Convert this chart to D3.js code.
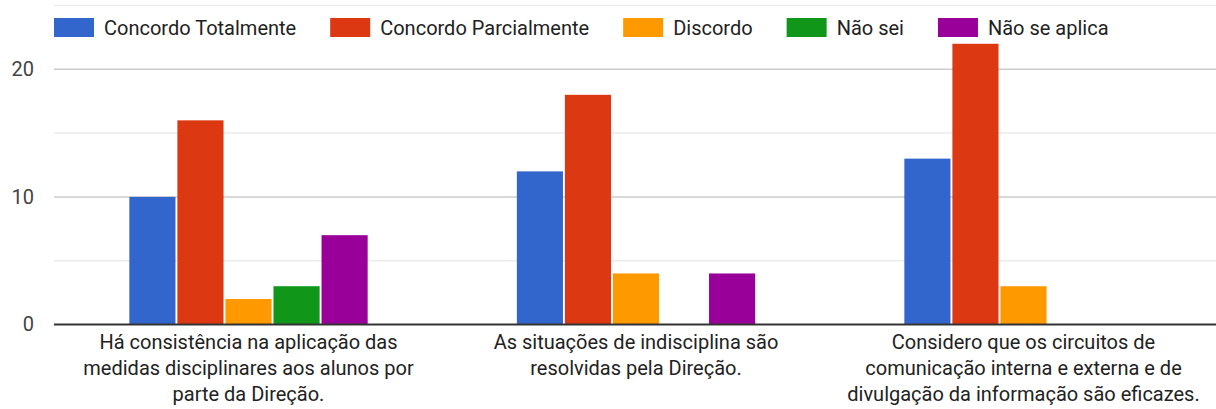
<!DOCTYPE html>
<html>
<head>
<meta charset="utf-8">
<script src="https://cdn.jsdelivr.net/npm/d3@7"></script>
<style>
  html, body { margin: 0; padding: 0; background: #fff; }
  svg { display: block; font-family: Roboto, "Noto Sans", Arial, sans-serif; }
</style>
</head>
<body>
<svg id="chart" width="1216" height="409"></svg>
<script>
// Survey statements (x categories), one label line per entry
const categories = [
  ["Há consistência na aplicação das", "medidas disciplinares aos alunos por", "parte da Direção."],
  ["As situações de indisciplina são", "resolvidas pela Direção."],
  ["Considero que os circuitos de", "comunicação interna e externa e de", "divulgação da informação são eficazes."]
];

// Answer options (series)
const seriesNames = ["Concordo Totalmente", "Concordo Parcialmente", "Discordo", "Não sei", "Não se aplica"];
const seriesColors = ["#3366cc", "#dc3912", "#ff9900", "#109618", "#990099"];

// Number of answers per statement, one array per answer option
const concordoTotalmente   = [10, 12, 13];
const concordoParcialmente = [16, 18, 22];
const discordo             = [2, 4, 3];
const naoSei               = [3, 0, 0];
const naoSeAplica          = [7, 4, 0];
const seriesValues = [concordoTotalmente, concordoParcialmente, discordo, naoSei, naoSeAplica];

// Y axis ticks
const yTickLabels = [0, 10, 20];
const yGridValues = [5, 10, 15, 20, 25];

const FONT = "Roboto, 'Noto Sans', Arial, sans-serif";
const svg = d3.select("#chart");
const plot = { left: 54.75, right: 1217.25, top: 5.5, bottom: 324.5 };

const y = d3.scaleLinear().domain([0, 25]).range([plot.bottom, plot.top]);
const x0 = d3.scaleBand()
  .domain(d3.range(categories.length))
  .range([plot.left, plot.right])
  .paddingInner(0.385)
  .paddingOuter(0.1925);
const x1 = d3.scaleBand()
  .domain(d3.range(seriesNames.length))
  .range([0, x0.bandwidth()])
  .paddingInner(0.04);

// Gridlines: stronger on labelled ticks
svg.append("g").selectAll("line")
  .data(yGridValues)
  .join("line")
  .attr("x1", 54)
  .attr("x2", 1216)
  .attr("y1", d => y(d))
  .attr("y2", d => y(d))
  .attr("stroke", d => yTickLabels.includes(d) ? "#cccccc" : "#ebebeb")
  .attr("stroke-width", 1.5);

// Y axis labels
const yAxis = d3.axisLeft(y).tickValues(yTickLabels).tickSize(0).tickPadding(0);
svg.append("g")
  .attr("transform", `translate(34,0)`)
  .call(yAxis)
  .call(g => g.select(".domain").remove())
  .call(g => g.selectAll("text")
    .attr("fill", "#444")
    .attr("font-size", 20)
    .attr("font-family", FONT));

// Bars
const groups = svg.append("g").selectAll("g")
  .data(categories.map((c, i) => i))
  .join("g")
  .attr("transform", i => `translate(${x0(i)},0)`);

groups.selectAll("rect")
  .data(i => seriesValues.map((vals, s) => ({ s, v: vals[i] })).filter(d => d.v > 0))
  .join("rect")
  .attr("x", d => x1(d.s))
  .attr("width", x1.bandwidth())
  .attr("y", d => y(d.v))
  .attr("height", d => y(0) - y(d.v))
  .attr("fill", d => seriesColors[d.s]);

// Baseline
svg.append("line")
  .attr("x1", 54).attr("x2", 1216)
  .attr("y1", y(0)).attr("y2", y(0))
  .attr("stroke", "#333").attr("stroke-width", 2);

// X category labels (multi-line, centred under each group)
const xLabels = svg.append("g").selectAll("text")
  .data(categories.map((lines, i) => ({ lines, i })))
  .join("text")
  .attr("text-anchor", "middle")
  .attr("font-size", 20)
  .attr("fill", "#222");
xLabels.selectAll("tspan")
  .data(d => d.lines.map(line => ({ line, i: d.i })))
  .join("tspan")
  .attr("x", d => x0(d.i) + x0.bandwidth() / 2)
  .attr("y", (d, k) => 349 + k * 26)
  .text(d => d.line);

// Legend, laid out left to right from measured text widths
const legend = svg.append("g");
let lx = 54;
seriesNames.forEach((name, s) => {
  legend.append("rect")
    .attr("x", lx).attr("y", 18)
    .attr("width", 40).attr("height", 19)
    .attr("fill", seriesColors[s]);
  const t = legend.append("text")
    .attr("x", lx + 50).attr("y", 35)
    .attr("font-size", 20)
    .attr("fill", "#222")
    .text(name);
  lx = lx + 50 + t.node().getComputedTextLength() + 34;
});
</script>
</body>
</html>
